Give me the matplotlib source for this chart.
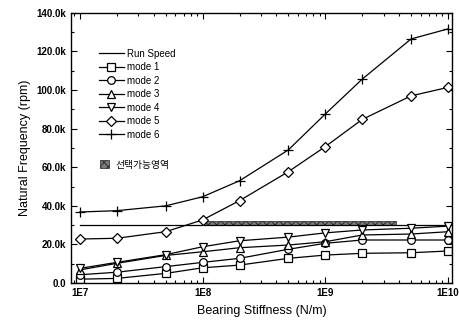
import numpy as np
import matplotlib.pyplot as plt
from matplotlib.patches import Patch
from matplotlib.ticker import FuncFormatter, MultipleLocator, LogLocator, NullFormatter

plt.rcParams['font.family'] = ['Liberation Sans', 'Noto Sans CJK KR']
plt.rcParams['hatch.linewidth'] = 0.6

# bearing stiffness (N/m) and natural frequencies (rpm)
stiff = [1e7, 2e7, 5e7, 1e8, 2e8, 5e8, 1e9, 2e9, 5e9, 1e10]
mode1 = [2000, 2400, 5000, 7900, 9300, 12800, 14500, 15400, 15700, 16600]
mode2 = [4300, 5600, 8500, 10700, 12800, 17500, 20600, 22300, 22300, 22300]
mode3 = [6800, 10200, 14300, 16200, 18300, 19700, 21400, 24900, 25400, 26600]
mode4 = [7600, 10700, 14700, 18800, 21900, 23800, 26000, 27500, 28400, 29500]
mode5 = [22800, 23200, 26600, 32700, 42700, 57700, 70700, 84800, 97000, 101400]
mode6 = [36800, 37500, 40000, 44700, 53000, 69000, 87600, 105700, 126500, 131700]
run_speed = 30000
band_x = [1e8, 3.8e9]
band_lo, band_hi = 30000, 32400

fig = plt.figure(figsize=(4.6, 3.22), dpi=100)
ax = fig.add_axes([0.154, 0.121, 0.829, 0.839])

ax.plot([stiff[0], stiff[-1]], [run_speed, run_speed], c='k', lw=0.9, label='Run Speed')
series = [(mode1, 's', 'mode 1'), (mode2, 'o', 'mode 2'), (mode3, '^', 'mode 3'),
          (mode4, 'v', 'mode 4'), (mode5, 'D', 'mode 5'), (mode6, '+', 'mode 6')]
handles = []
for y, m, lab in series:
    ms = 4.8 if m == 'D' else 5.5
    if m == '+':
        ms = 7
    h, = ax.plot(stiff, y, c='k', lw=0.9, marker=m, ms=ms, mfc='white',
                 mec='k', mew=0.9, label=lab)
    handles.append(h)

ax.fill_between(band_x, band_lo, band_hi, facecolor='#7a7a7a', edgecolor='#222222',
                hatch='xxxx', lw=0.5)

ax.set_xscale('log')
ax.set_xlim(8.45e6, 1.08e10)
ax.set_ylim(0, 140000)
ax.set_xticks([1e7, 1e8, 1e9, 1e10])
ax.set_xticklabels(['1E7', '1E8', '1E9', '1E10'])
ax.xaxis.set_minor_locator(LogLocator(base=10, subs=np.arange(2, 10)))
ax.xaxis.set_minor_formatter(NullFormatter())
ax.yaxis.set_major_locator(MultipleLocator(20000))
ax.yaxis.set_minor_locator(MultipleLocator(10000))
ax.yaxis.set_major_formatter(FuncFormatter(lambda v, p: '0.0' if v == 0 else f'{v/1000:.1f}k'))
ax.tick_params(which='both', direction='in', top=True, right=True, labelsize=7, width=0.8)
ax.tick_params(which='major', length=4)
ax.tick_params(which='minor', length=2)
for t in ax.get_xticklabels() + ax.get_yticklabels():
    t.set_fontweight('bold')
for s in ax.spines.values():
    s.set_linewidth(1.0)

ax.set_xlabel('Bearing Stiffness (N/m)', fontsize=9, labelpad=5)
ax.set_ylabel('Natural Frequency (rpm)', fontsize=9, labelpad=4)

h0 = ax.get_lines()[0]
leg = ax.legend([h0] + handles, [h0.get_label()] + [h.get_label() for h in handles],
                loc='upper left', bbox_to_anchor=(0.06, 0.885), frameon=False,
                fontsize=7, handlelength=2.6, handletextpad=0.3, labelspacing=0.36,
                borderpad=0)
ax.add_artist(leg)
band_patch = Patch(facecolor='#7a7a7a', edgecolor='#222222', hatch='xxxx', lw=0.5)
ax.legend([band_patch], ['선택가능영역'], loc='upper left', bbox_to_anchor=(0.065, 0.475),
          frameon=False, handlelength=0.9, handleheight=0.9,
          handletextpad=0.6, borderpad=0,
          prop={'family': ['Noto Sans CJK KR'], 'size': 7})

fig.savefig('out.png', dpi=100)
